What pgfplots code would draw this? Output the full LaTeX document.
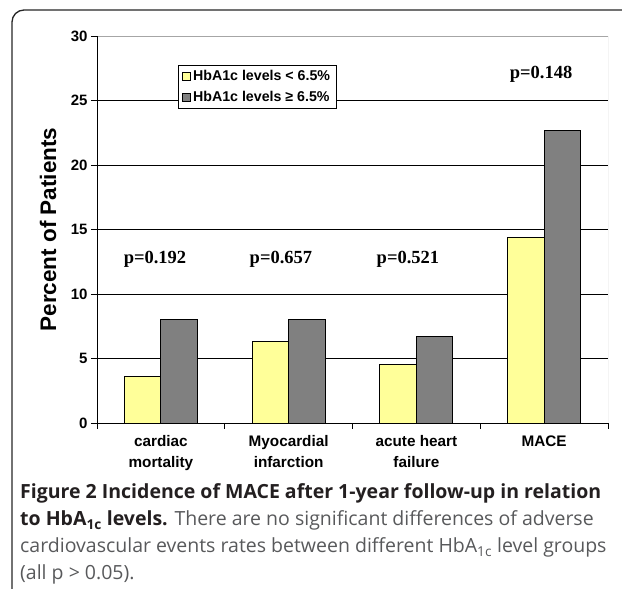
\documentclass[border=0pt]{standalone}
\usepackage{fontspec}
\setmainfont{Liberation Sans}
\newfontfamily\timesf{Liberation Serif}
\newfontfamily\capf{Open Sans}
\usepackage{pgfplots}
\pgfplotsset{compat=1.18}
\usetikzlibrary{calc}
\definecolor{barY}{HTML}{FFFF99}
\definecolor{barG}{HTML}{808080}
\definecolor{capbold}{HTML}{231F20}
\definecolor{captext}{HTML}{58595B}
\pgfplotsset{mylegend/.style={legend image code/.code={\draw[##1, draw=black, line width=0.7pt] (0pt,-4pt) rectangle (8pt,4pt);}}}
\begin{document}
\begin{tikzpicture}[x=1pt,y=1pt]
\begin{axis}[
  scale only axis, width=511pt, height=387pt,
  xmin=0.5, xmax=4.5, ymin=0, ymax=30,
  ybar=0pt, bar width=36.5pt,
  axis lines*=left,
  axis line style={-, black, line width=0.9pt},
  ytick={0,5,...,30},
  xtick={0.5,1.5,...,4.5},
  x tick label as interval,
  xticklabels={cardiac\\mortality, Myocardial\\infarction, acute heart\\failure, MACE},
  xticklabel style={align=center, font=\bfseries\fontsize{15.3}{20.5}\selectfont, yshift=-3pt},
  yticklabel style={font=\bfseries\fontsize{15}{16}\selectfont},
  /pgf/number format/assume math mode=true,
  tick align=outside,
  major tick length=6pt,
  tick style={black, line width=0.9pt},
  ymajorgrids,
  grid style={black, line width=0.9pt},
  every axis y label/.style={at={(rel axis cs:0,0.5)}, xshift=-49pt, rotate=90, anchor=center},
  ylabel={Percent of Patients},
  ylabel style={font=\bfseries\fontsize{22.5}{25}\selectfont},
  legend style={at={(0.1585,0.925)}, anchor=north west, draw=black, line width=0.9pt, fill=white,
    font=\bfseries\fontsize{14.2}{16}\selectfont, row sep=5pt, inner xsep=4pt, inner ysep=3pt},
  legend cell align=left,
]
\addplot[mylegend, fill=barY, draw=black, line width=0.9pt] coordinates {(1,3.6) (2,6.3) (3,4.5) (4,14.4)};
\addplot[mylegend, fill=barG, draw=black, line width=0.9pt] coordinates {(1,8.0) (2,8.0) (3,6.7) (4,22.7)};
\legend{HbA1c levels < 6.5\%, HbA1c levels ≥ 6.5\%}
\draw[white, line width=1.6pt] (rel axis cs:0.002,1) -- (rel axis cs:1,1);
\draw[black!35, line width=0.9pt] (rel axis cs:0.002,1) -- (rel axis cs:1,1) -- (rel axis cs:1,0.001);
\node[anchor=base, font=\timesf\bfseries\fontsize{18.5}{20}\selectfont] at (axis cs:0.954,12.4) {p=0.192};
\node[anchor=base, font=\timesf\bfseries\fontsize{18.5}{20}\selectfont] at (axis cs:1.94,12.4) {p=0.657};
\node[anchor=base, font=\timesf\bfseries\fontsize{18.5}{20}\selectfont] at (axis cs:2.934,12.4) {p=0.521};
\node[anchor=base, font=\timesf\bfseries\fontsize{18.5}{20}\selectfont] at (axis cs:3.976,26.7) {p=0.148};
\coordinate (O) at (rel axis cs:0,0);
\end{axis}
\coordinate (P) at ($(O)+(-97,-166)$);
\pgfresetboundingbox
\path[use as bounding box] (P) rectangle ($(P)+(622,589)$);
\draw[line width=1.3pt, color=black!85, rounded corners=12pt] ($(P)+(12,-10)$) -- ($(P)+(12,579)$) -- ($(P)+(650,579)$);
\begin{scope}[shift={(P)}, every node/.style={anchor=base west, inner sep=0pt, font=\capf\fontsize{19.5}{23}\selectfont}]
\node[text=capbold] at (20,90) {\bfseries Figure 2 Incidence of MACE after 1-year follow-up in relation};
\node[text=captext] at (20,63) {\textcolor{capbold}{\bfseries to HbA\textsubscript{1c} levels.} There are no significant differences of adverse};
\node[text=captext] at (20,36) {cardiovascular events rates between different HbA\textsubscript{1c} level groups};
\node[text=captext] at (20,9.5) {(all p > 0.05).};
\end{scope}
\end{tikzpicture}
\end{document}
